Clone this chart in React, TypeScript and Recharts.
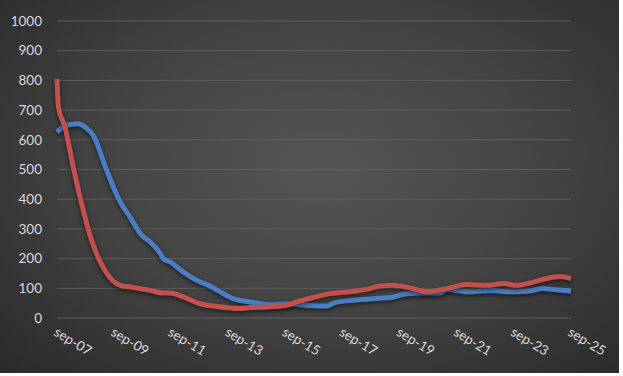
import React from "react";
import { LineChart, Line, XAxis, YAxis, CartesianGrid } from "recharts";

// x: years since Sep 2007
const redT = [0, 0.05, 0.28, 0.57, 0.86, 1.21, 1.68, 2.21, 2.66, 3.26, 3.72, 3.96, 4.42, 5.01, 5.59, 6.41, 6.76, 7.34, 8.04, 8.39, 8.97, 9.56, 10.49, 10.96, 11.31, 11.78, 12.24, 12.59, 12.94, 13.64, 14.35, 15.05, 15.63, 16.1, 16.68, 17.15, 17.61, 18];
const redV = [805, 710, 643, 508, 386, 262, 160, 110, 103, 93, 84, 84, 71, 48, 39, 32, 35, 37, 43, 54, 69, 82, 91, 99, 108, 110, 104, 96, 88, 99, 113, 110, 116, 110, 121, 133, 140, 133];
const blueT = [0, 0.34, 0.74, 0.98, 1.27, 1.74, 2.21, 2.56, 2.97, 3.26, 3.61, 3.72, 3.96, 4.42, 4.89, 5.3, 5.71, 6.17, 6.76, 7.46, 8.04, 8.74, 9.46, 9.7, 10.38, 11.07, 11.78, 12.24, 12.7, 13.41, 13.65, 14.46, 15.28, 15.75, 16.45, 17.03, 17.38, 18];
const blueV = [626, 649, 654, 643, 615, 497, 391, 340, 278, 256, 218, 200, 189, 155, 127, 110, 88, 65, 54, 45, 48, 43, 40, 51, 60, 65, 71, 82, 84, 84, 96, 88, 93, 88, 90, 99, 96, 91];
const xTicks = [0, 2, 4, 6, 8, 10, 12, 14, 16, 18];
const xLabels = ["sep-07", "sep-09", "sep-11", "sep-13", "sep-15", "sep-17", "sep-19", "sep-21", "sep-23", "sep-25"];
const yTicks = [0, 100, 200, 300, 400, 500, 600, 700, 800, 900, 1000];

const redData = redT.map((t, i) => ({ t, v: redV[i] }));
const blueData = blueT.map((t, i) => ({ t, v: blueV[i] }));

const XTick = (props: any) => {
  const { x, y, payload } = props;
  const idx = xTicks.indexOf(payload.value);
  return (
    <text
      x={x}
      y={y}
      dy={8}
      transform={`rotate(31 ${x} ${y})`}
      textAnchor="start"
      fill="#d9d9d9"
      fontSize={13.5}
      fontFamily="Lato, sans-serif"
    >
      {idx >= 0 ? xLabels[idx] : ""}
    </text>
  );
};

export default function App() {
  return (
    <div
      style={{
        position: "absolute",
        left: 0,
        top: 0,
        width: 619,
        height: 373,
        background: "radial-gradient(ellipse at 52% 45%, #555555 0%, #454545 45%, #2a2a2a 100%)",
      }}
    >
      <style>{`body{margin:0;background:#fff}.recharts-line-curve{filter:drop-shadow(0px 2px 2px rgba(0,0,0,0.55));}`}</style>
      <LineChart width={619} height={373} margin={{ top: 21, right: 48, bottom: 0, left: 0 }}>
        <CartesianGrid horizontal vertical={false} stroke="#5e5e5e" strokeWidth={1} />
        <XAxis
          dataKey="t"
          type="number"
          domain={[0, 18]}
          ticks={xTicks}
          interval={0}
          axisLine={false}
          tickLine={false}
          height={55}
          tickMargin={4}
          tick={<XTick />}
          allowDuplicatedCategory={false}
        />
        <YAxis
          type="number"
          domain={[0, 1000]}
          ticks={yTicks}
          interval={0}
          width={57}
          axisLine={false}
          tickLine={false}
          tickMargin={9}
          tick={{ fill: "#d9d9d9", fontSize: 13.5, fontFamily: "Lato, sans-serif" }}
        />
        <Line
          data={blueData}
          dataKey="v"
          type="monotone"
          stroke="#4a7ec4"
          strokeWidth={5}
          dot={false}
          isAnimationActive={false}
        />
        <Line
          data={redData}
          dataKey="v"
          type="monotone"
          stroke="#c4504d"
          strokeWidth={5}
          dot={false}
          isAnimationActive={false}
        />
      </LineChart>
    </div>
  );
}
